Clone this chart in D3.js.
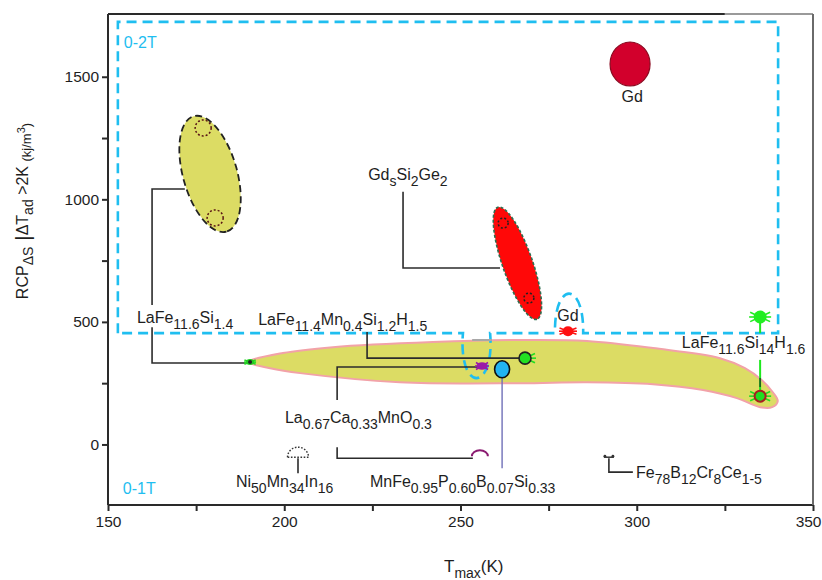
<!DOCTYPE html>
<html><head><meta charset="utf-8">
<script src="https://cdn.jsdelivr.net/npm/d3@7"></script>
<style>html,body{margin:0;padding:0;background:#fff}</style>
</head><body>
<svg id="chart" width="822" height="580"></svg>
<script>
// ================= DATA =================
const xTicks = [150,175,200,225,250,275,300,325,350];
const xTickLabels = ["150","","200","","250","","300","","350"];
const yTicks = [0,250,500,750,1000,1250,1500];
const yTickLabels = ["0","","500","","1000","","1500"];

// 0-1T LaFe(Si)H region outline (Tmax K, RCP kJ/m3)
const regionT   = [189.7,199.6,213.8,242.2,266.9,285.9,304.6,323.6,330.7,335.5,338.6,340.0,338.4,335.0,328.4,318.8,304.6,285.9,266.9,232.8,204.5,196.0];
const regionRCP = [336,  373,  397,  418,  426,  422,  393,  352,  311,  262,  213,  177,  152,  152,  189,  222,  246,  254,  250,  254,  291,  311];

// 0-2T dashed enclosure (left/right T, bottom/top RCP) with a dip and an arch
const boxT = [152.8, 340.1];
const boxRCP = [454, 1724];
const boxDipT = [250.7, 258.4];
const boxDipRCP = 271;
const boxArchT = [276.8, 284.8];
const boxArchRCP = 615;

// 0-2T range ellipses: ends of the major axis
const ellipseNames = ["LaFe11.6Si1.4", "Gd5Si2Ge2"];
const ellipseEndT1 = [174.3, 260.6];
const ellipseEndR1 = [1339, 968];
const ellipseEndT2 = [183.6, 271.7];
const ellipseEndR2 = [868, 511];
const ellipseInnerT = [[177.0, 180.4], [262.1, 269.4]];
const ellipseInnerR = [[1291, 924], [903, 597]];

// Gd at 0-2T
const gdBigT = 298.1, gdBigRCP = 1552;

// individual material points
const markerNames = ["LaFe11.6Si1.4 0-1T","LaFe11.4Mn0.4Si1.2H1.5","La0.67Ca0.33MnO0.3 0-2T","MnFe0.95P0.60B0.07Si0.33","Gd 0-1T","LaFe11.6Si14H1.6 0-2T","LaFe11.6Si14H1.6 0-1T","La0.67Ca0.33MnO0.3 0-1T","Ni50Mn34In16","Fe78B12Cr8Ce1-5"];
const markerT   = [190.3, 268.3, 256.1, 261.8, 280.5, 335.0, 335.0, 255.5, 203.9, 292.1];
const markerRCP = [336,   352,   320,   307,   462,   520,   197,   -48,   -52,   -52];

// text labels
const labelTexts = ["LaFe_{11.6}Si_{1.4}","LaFe_{11.4}Mn_{0.4}Si_{1.2}H_{1.5}","Gd_{s}Si_{2}Ge_{2}","Gd","Gd","LaFe_{11.6}Si_{14}H_{1.6}","La_{0.67}Ca_{0.33}MnO_{0.3}","Ni_{50}Mn_{34}In_{16}","MnFe_{0.95}P_{0.60}B_{0.07}Si_{0.33}","Fe_{78}B_{12}Cr_{8}Ce_{1-5}"];
const labelT   = [158.2, 192.6, 223.8, 298.7, 280.5, 312.8, 200.2, 186.3, 224.3, 299.8];
const labelRCP = [495,   487,   1079,  1397,  504,   393,   87,    -175,  -175,  -138];
const labelCentered = [false,false,false,true,true,false,false,false,false,false];

// leader lines (Tmax, RCP)
const leaderLines = [
  [[171.8,1042],[162.5,1042],[162.5,569]],
  [[162.5,478],[162.5,332],[189.7,332]],
  [[233.7,1031],[233.7,720],[261.2,720]],
  [[223.5,459],[223.5,352],[268.3,352]],
  [[256.1,316],[215.0,316],[215.0,181]],
  [[253.5,-56],[215.0,-56],[215.0,-11]],
  [[203.9,-56],[203.9,-117]],
  [[292.1,-56],[292.1,-113],[298.9,-113]]
];
const mnFeLeader = [[261.8,275],[261.8,-97]];
const greenLeaders = [[[335,520],[335,454]], [[335,345],[335,197]]];
const darkGreenPiece = [[335,271],[335,234]];
const grayPiece = [[253.3,426],[258.9,426]];

const boxLabels = ["0-2T","0-1T"];
const boxLabelT = [154.5, 154.2];
const boxLabelRCP = [1618, -202];

// ================= DRAW =================
const svg = d3.select("#chart");
const FONT = "'Liberation Sans', Arial, Helvetica, sans-serif";
const CYAN = "#1fbef0";
const INK = "#1e1e1e";

const x = d3.scaleLinear().domain([150,350]).range([108,813]);
const y = d3.scaleLinear().domain([-247,1756]).range([505,14]);
const px = p => [x(p[0]), y(p[1])];

// rich text helper: _{sub} ^{sup}
function rich(sel, str, main, sub, shift) {
  const parts = str.split(/(_\{[^}]*\}|\^\{[^}]*\})/).filter(s => s.length);
  let cur = 0;
  parts.forEach(p => {
    let t = p, size = main, target = 0;
    if (p.startsWith("_{")) { t = p.slice(2,-1); size = sub; target = shift; }
    else if (p.startsWith("^{")) { t = p.slice(2,-1); size = sub; target = -shift; }
    sel.append("tspan").attr("dy", target - cur).style("font-size", size + "px").text(t);
    cur = target;
  });
}

// region (0-1T)
const regionPts = regionT.map((t,i) => [x(t), y(regionRCP[i])]);
svg.append("path")
  .attr("d", d3.line().curve(d3.curveCatmullRomClosed.alpha(0.5))(regionPts))
  .attr("fill", "#dcdc64").attr("stroke", "#f2a2a8").attr("stroke-width", 2);

// 0-2T dashed box
{
  const L = x(boxT[0]), R = x(boxT[1]), B = y(boxRCP[0]), T = y(boxRCP[1]);
  const aR = x(boxArchT[1]), aL = x(boxArchT[0]), aH = B - y(boxArchRCP);
  const dR = x(boxDipT[1]), dL = x(boxDipT[0]), dH = y(boxDipRCP) - B;
  const p = d3.path();
  p.moveTo(L,B); p.lineTo(L,T); p.lineTo(R,T); p.lineTo(R,B); p.lineTo(aR,B);
  p.bezierCurveTo(aR+1, B-aH*4/3, aL-1, B-aH*4/3, aL, B);
  p.lineTo(dR,B);
  p.bezierCurveTo(dR+5, B+dH*4/3, dL-5, B+dH*4/3, dL, B);
  p.lineTo(L,B);
  svg.append("path").attr("d", p.toString()).attr("fill","none")
    .attr("stroke", CYAN).attr("stroke-width", 2.6).attr("stroke-dasharray","10,6");
}
// small gray piece
svg.append("path").attr("d", d3.line()(grayPiece.map(px))).attr("stroke","#a8a8a8").attr("stroke-width",2).attr("fill","none");

// leader lines
leaderLines.forEach(l => svg.append("path").attr("d", d3.line()(l.map(px)))
  .attr("fill","none").attr("stroke","#2b2b2b").attr("stroke-width",1.6));
svg.append("path").attr("d", d3.line()(mnFeLeader.map(px))).attr("fill","none").attr("stroke","#6f6fb8").attr("stroke-width",1.4);
greenLeaders.forEach(l => svg.append("path").attr("d", d3.line()(l.map(px)))
  .attr("fill","none").attr("stroke","#1ee81e").attr("stroke-width",2));
svg.append("path").attr("d", d3.line()(darkGreenPiece.map(px))).attr("fill","none").attr("stroke","#225522").attr("stroke-width",1.6);

// ellipses
const ellStyles = [
  {fill:"#dcdc64", stroke:"#222", dash:"7,4", sw:1.8, b:27, inR:8, inStroke:"#5a1515"},
  {fill:"#ff0808", stroke:"#2e6e50", dash:"3,2", sw:1.6, b:15, inR:5, inStroke:"#222"}
];
ellipseNames.forEach((n,i) => {
  const [x1,y1] = [x(ellipseEndT1[i]), y(ellipseEndR1[i])];
  const [x2,y2] = [x(ellipseEndT2[i]), y(ellipseEndR2[i])];
  const cx = (x1+x2)/2, cy = (y1+y2)/2;
  const a = Math.hypot(x2-x1, y2-y1)/2;
  const ang = Math.atan2(y2-y1, x2-x1)*180/Math.PI;
  const s = ellStyles[i];
  svg.append("ellipse").attr("transform",`translate(${cx},${cy}) rotate(${ang})`)
    .attr("rx", a).attr("ry", s.b).attr("fill", s.fill)
    .attr("stroke", s.stroke).attr("stroke-width", s.sw).attr("stroke-dasharray", s.dash);
  ellipseInnerT[i].forEach((t,j) => {
    svg.append("circle").attr("cx", x(t)).attr("cy", y(ellipseInnerR[i][j])).attr("r", s.inR)
      .attr("fill","none").attr("stroke", s.inStroke).attr("stroke-width",1.5).attr("stroke-dasharray","2,2");
  });
});

// Gd 0-2T big disc
svg.append("ellipse").attr("cx", x(gdBigT)).attr("cy", y(gdBigRCP)).attr("rx",20).attr("ry",22)
  .attr("fill","#d2002c").attr("stroke","#8a0a20").attr("stroke-width",1.2);

// markers
function spikes(g, color, len, angs) {
  angs.forEach(a => {
    const r = a*Math.PI/180;
    g.append("line").attr("x1",0).attr("y1",0).attr("x2",len*Math.cos(r)).attr("y2",len*Math.sin(r))
      .attr("stroke",color).attr("stroke-width",1.6);
  });
}
const markerDraw = {
  "LaFe11.6Si1.4 0-1T": g => { spikes(g,"#22dd22",6,[0,180,20,160,-20,-160]); g.append("ellipse").attr("rx",4).attr("ry",3).attr("fill","#22cc22"); g.append("circle").attr("r",2).attr("fill","#222"); },
  "LaFe11.4Mn0.4Si1.2H1.5": g => { spikes(g,"#22dd22",11,[0,25,-25]); g.append("circle").attr("r",6).attr("fill","#22e022").attr("stroke","#222").attr("stroke-width",1.6); },
  "La0.67Ca0.33MnO0.3 0-2T": g => { spikes(g,"#9a1aa8",7,[0,180,30,150,-30,-150]); g.append("ellipse").attr("rx",5.5).attr("ry",3.8).attr("fill","#9a1aa8"); },
  "MnFe0.95P0.60B0.07Si0.33": g => { g.append("ellipse").attr("rx",7.5).attr("ry",8.5).attr("fill","#22b4f2").attr("stroke","#111").attr("stroke-width",1.6); },
  "Gd 0-1T": g => { spikes(g,"#ff1010",9,[0,180,20,160,-20,-160]); g.append("ellipse").attr("rx",5.5).attr("ry",5).attr("fill","#ff1010"); },
  "LaFe11.6Si14H1.6 0-2T": g => { spikes(g,"#22ee22",11,[0,180,25,155,-25,-155]); g.append("circle").attr("r",6.5).attr("fill","#22ee22"); },
  "LaFe11.6Si14H1.6 0-1T": g => { spikes(g,"#22dd22",11,[0,180,25,155,-25,-155]); g.append("circle").attr("r",5.5).attr("fill","#22dd22").attr("stroke","#a82020").attr("stroke-width",2); },
  "La0.67Ca0.33MnO0.3 0-1T": g => { g.append("path").attr("d","M-8,0 A8,6 0 0 1 8,0").attr("fill","none").attr("stroke","#8a1a70").attr("stroke-width",2); },
  "Ni50Mn34In16": g => { g.append("path").attr("d","M-10.5,0 A10.5,10 0 0 1 10.5,0 Z").attr("fill","none").attr("stroke","#333").attr("stroke-width",1.4).attr("stroke-dasharray","1.6,1.6"); },
  "Fe78B12Cr8Ce1-5": g => { g.append("line").attr("x1",-5).attr("x2",5).attr("y1",0).attr("y2",0).attr("stroke","#333").attr("stroke-width",1.5); g.append("circle").attr("cx",-4).attr("cy",-1).attr("r",1.4).attr("fill","#333"); g.append("circle").attr("cx",4).attr("cy",-1).attr("r",1.4).attr("fill","#333"); }
};
markerNames.forEach((n,i) => {
  const g = svg.append("g").attr("transform", `translate(${x(markerT[i])},${y(markerRCP[i])})`);
  markerDraw[n](g);
});

// labels
labelTexts.forEach((s,i) => {
  const t = svg.append("text").attr("x", x(labelT[i])).attr("y", y(labelRCP[i]))
    .attr("text-anchor", labelCentered[i] ? "middle" : "start")
    .style("font-family", FONT).attr("fill", INK);
  rich(t, s, 16, 14, 6);
});
boxLabels.forEach((s,i) => {
  svg.append("text").attr("x", x(boxLabelT[i])).attr("y", y(boxLabelRCP[i]))
    .style("font-family", FONT).style("font-size","16px").attr("fill", CYAN).text(s);
});

// axes
const xAxis = d3.axisBottom(x).tickValues(xTicks).tickFormat((d,i) => xTickLabels[i]).tickSize(6).tickPadding(5);
const yAxis = d3.axisLeft(y).tickValues(yTicks).tickFormat((d,i) => yTickLabels[i]).tickSize(6).tickPadding(3);
const gx = svg.append("g").attr("transform", `translate(0,${y.range()[0]})`).call(xAxis);
const gy = svg.append("g").attr("transform", `translate(${x.range()[0]},0)`).call(yAxis);
[gx, gy].forEach(g => {
  g.select(".domain").remove();
  g.selectAll(".tick line").attr("stroke", "#2a2a2a").attr("stroke-width", 2);
  g.selectAll(".tick text").style("font-family", FONT).style("font-size","15.5px").attr("fill", INK);
});
// keep the last x tick label inside the picture
gx.selectAll(".tick text").filter(d => d === xTicks[xTicks.length-1]).attr("text-anchor","end").attr("x", 8);

// frame
const X0 = x.range()[0], X1 = x.range()[1], Y0 = y.range()[0], Y1 = y.range()[1];
svg.append("line").attr("x1",X0).attr("x2",X1).attr("y1",Y0).attr("y2",Y0).attr("stroke","#2a2a2a").attr("stroke-width",2);
svg.append("line").attr("x1",X0).attr("x2",X0).attr("y1",Y1).attr("y2",Y0).attr("stroke","#2a2a2a").attr("stroke-width",2);
svg.append("line").attr("x1",X0).attr("x2",x(325)).attr("y1",Y1).attr("y2",Y1).attr("stroke","#2a2a2a").attr("stroke-width",2);
svg.append("line").attr("x1",x(325)).attr("x2",X1).attr("y1",Y1).attr("y2",Y1).attr("stroke","#9a9a9a").attr("stroke-width",2);
svg.append("line").attr("x1",X1).attr("x2",X1).attr("y1",Y1).attr("y2",Y0).attr("stroke","#6a6a6a").attr("stroke-width",2);

// axis titles
{
  const t = svg.append("text").attr("x", 444).attr("y", 572).style("font-family", FONT).attr("fill", INK);
  rich(t, "T_{max}(K)", 17, 14, 6);
}
{
  const t = svg.append("text").attr("transform","translate(28,211) rotate(-90)")
    .attr("text-anchor","middle").style("font-family", FONT).attr("fill", INK);
  t.append("tspan").style("font-size","16px").text("RCP");
  t.append("tspan").attr("dy",5).style("font-size","14px").text("ΔS");
  t.append("tspan").attr("dy",-3).style("font-size","21px").text(" |");
  t.append("tspan").attr("dy",-2).style("font-size","16px").text("ΔT");
  t.append("tspan").attr("dy",5).style("font-size","14px").text("ad");
  t.append("tspan").attr("dy",-5).style("font-size","16px").text(" >2K ");
  t.append("tspan").attr("dy",3).style("font-size","13px").text("(kj/m");
  t.append("tspan").attr("dy",-6).style("font-size","11px").text("3");
  t.append("tspan").attr("dy",6).style("font-size","13px").text(")");
}
</script>
</body></html>
